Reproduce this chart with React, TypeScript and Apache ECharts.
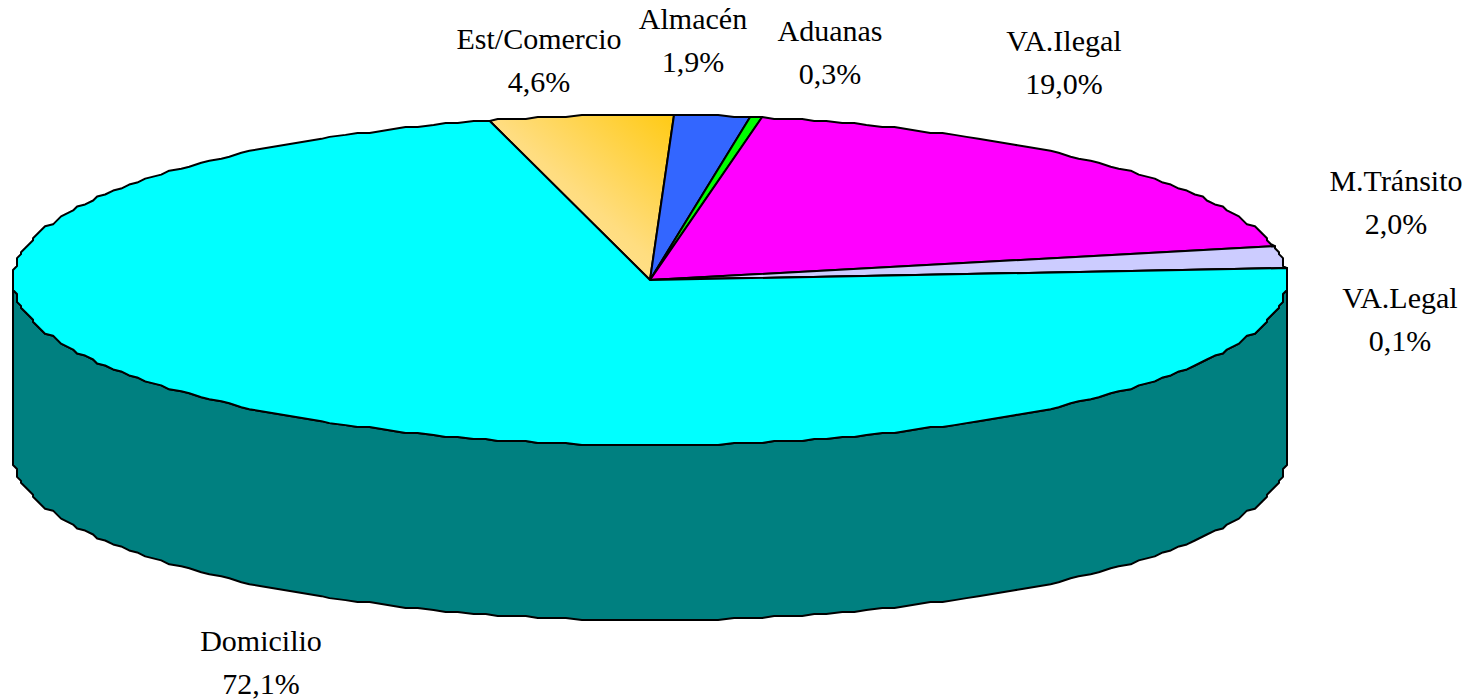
import React, { useEffect, useRef } from "react";
import * as echarts from "echarts";

const categories = ["Est/Comercio", "Almacén", "Aduanas", "VA.Ilegal", "M.Tránsito", "VA.Legal", "Domicilio"];
const shares = [4.6, 1.9, 0.3, 19.0, 2.0, 0.1, 72.1];

const topColors: any[] = [
  {
    type: "linear", x: 1, y: 0, x2: 0, y2: 1,
    colorStops: [
      { offset: 0, color: "#FFCA14" },
      { offset: 0.5, color: "#FFDD80" },
      { offset: 1, color: "#FFE9A6" },
    ],
  },
  "#3366FF", "#00FF00", "#FF00FF", "#CCCCFF", "#FFFF99", "#00FFFF",
];
const wallColors = ["#807000", "#1A3380", "#008000", "#800080", "#666680", "#80804C", "#008080"];
const labelCentres: [number, number][] = [
  [539, 60], [693, 40], [830, 52], [1064, 62], [1396, 202], [1400, 319], [261, 662],
];

const CX = 650, CY = 280, RX = 637, RY = 165, DEPTH = 175, START = -14.4;
const STEP = 1.25;
// the reference outline is a stepped polyline: snap the outline to a small grid
const GRID_X = Math.round(RX / 4), GRID_Y = Math.round(RY / 2);

const boundaries = shares.reduce<number[]>((acc, v) => [...acc, acc[acc.length - 1] + v * 3.6], [START]);

function pt(deg: number, dy = 0): number[] {
  const r = (deg * Math.PI) / 180;
  const sx = Math.round(Math.sin(r) * GRID_X) / GRID_X;
  const sy = Math.round(Math.cos(r) * GRID_Y) / GRID_Y;
  return [CX + RX * sx, CY - RY * sy + dy];
}
// every slice samples the same global angles, so the wall and the top share one outline
function arc(a: number, b: number, dy = 0): number[][] {
  const out: number[][] = [pt(a, dy)];
  for (let k = Math.floor(a / STEP) + 1; k * STEP < b; k++) out.push(pt(k * STEP, dy));
  out.push(pt(b, dy));
  return out;
}

function renderWall(params: any) {
  const i = params.dataIndex;
  // the front of the cylinder is 90°..270° clockwise from the top
  const a = Math.max(boundaries[i], 90);
  const b = Math.min(boundaries[i + 1], 270);
  if (b <= a) return { type: "group", children: [] };
  const upper = arc(a, b);
  const lower = arc(a, b, DEPTH).reverse();
  return {
    type: "polygon",
    shape: { points: [...upper, ...lower] },
    style: { fill: wallColors[i], stroke: "#000", lineWidth: 2, lineJoin: "round" },
    silent: true,
  };
}

function renderTop(params: any) {
  const i = params.dataIndex;
  return {
    type: "polygon",
    shape: { points: [[CX, CY], ...arc(boundaries[i], boundaries[i + 1])] },
    style: { fill: topColors[i], stroke: "#000", lineWidth: 2, lineJoin: "round" },
    silent: true,
  };
}

function renderLabel(params: any, api: any) {
  const i = params.dataIndex;
  const pct = Number(api.value(0)).toFixed(1).replace(".", ",") + "%";
  return {
    type: "text",
    style: {
      text: `${categories[i]}\n${pct}`,
      x: labelCentres[i][0],
      y: labelCentres[i][1],
      align: "center",
      verticalAlign: "middle",
      fontFamily: "Liberation Serif",
      fontSize: 30,
      lineHeight: 43,
      fill: "#000",
    },
    silent: true,
  };
}

export default function App() {
  const ref = useRef<HTMLDivElement>(null);
  useEffect(() => {
    document.body.style.margin = "0";
    const chart = echarts.init(ref.current!, undefined, { renderer: "svg" });
    const data = shares.map((v) => [v]);
    chart.setOption({
      animation: false,
      backgroundColor: "#fff",
      series: [
        { type: "custom", coordinateSystem: "none", renderItem: renderWall, data, clip: false, z: 1 },
        { type: "custom", coordinateSystem: "none", renderItem: renderTop, data, clip: false, z: 2 },
        { type: "custom", coordinateSystem: "none", renderItem: renderLabel, data, clip: false, z: 3 },
      ],
    });
    return () => chart.dispose();
  }, []);
  return <div ref={ref} style={{ width: 1476, height: 700 }} />;
}
